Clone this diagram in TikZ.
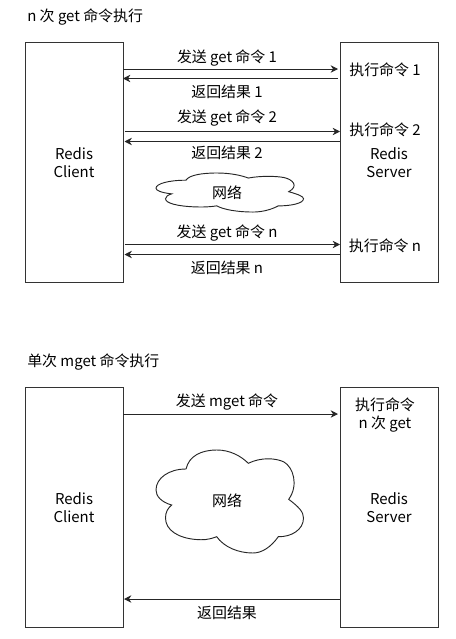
\documentclass[tikz,border=0pt]{standalone}
\usepackage{fontspec}
\setmainfont{Noto Sans CJK SC}
\usetikzlibrary{arrows.meta}
\tikzset{
    hostbox/.style={draw=black!80, line width=0.75pt, minimum width=73.5pt, minimum height=180pt, inner sep=0pt, outer sep=0pt},
    msgline/.style={draw=black!85, line width=0.75pt, -{Stealth[length=5.5pt,width=5.5pt]}},
    txt/.style={inner sep=0pt, align=center},
    cloudline/.style={draw=black!85, line width=0.7pt}
}
\newcommand{\netcloud}{
    \draw[cloudline] (15.7,55) .. controls (5,52) and (0,46) .. (0,40)
        .. controls (0,28) and (13,19) .. (30,19)
        .. controls (33,6) and (45,0) .. (61,0)
        .. controls (74,0) and (85,6) .. (92.3,13.3)
        .. controls (105,7) and (120,8) .. (128,12)
        .. controls (137,17) and (143,35) .. (132.7,49.3)
        .. controls (143,57) and (147.5,62) .. (147.5,68)
        .. controls (147.5,80) and (135,87) .. (122.3,86.7)
        .. controls (115,97) and (106,103) .. (97,103)
        .. controls (82,103) and (68,97) .. (60.7,86.7)
        .. controls (52,90) and (47,90) .. (40,89.5)
        .. controls (22,88) and (9.5,80) .. (9.5,68)
        .. controls (9.5,62) and (12,58) .. (15.7,55) -- cycle;
}

\begin{document}
\begin{tikzpicture}[x=0.75pt, y=-0.75pt, font=\fontsize{11.2}{13.5}\selectfont]
    \useasboundingbox (0,0) rectangle (456,639);

    % n gets
    \node (title1) [txt, anchor=west] at (27,17) {n 次 get 命令执行};
    \node (client1) [hostbox] at (74,162) {};
    \node (server1) [hostbox] at (389,162) {};
    \node (clabel1) [txt] at (74,163) {Redis\\Client};
    \node (slabel1) [txt] at (389,163) {Redis\\Server};

    \node (exec1) [txt] at (385,70) {执行命令 1};
    \node (exec2) [txt] at (385,130) {执行命令 2};
    \node (execn) [txt] at (385,246) {执行命令 n};

    \node (send1) [txt] at (227,58) {发送 get 命令 1};
    \node (back1) [txt] at (227,92) {返回结果 1};
    \node (send2) [txt] at (227,118) {发送 get 命令 2};
    \node (back2) [txt] at (227,153) {返回结果 2};
    \node (sendn) [txt] at (227,233) {发送 get 命令 n};
    \node (backn) [txt] at (227,268) {返回结果 n};

    \coordinate (c1a) at (123,69);  \coordinate (s1a) at (338,69);
    \coordinate (s1b) at (338,78.5);    \coordinate (c1b) at (123,78.5);
    \coordinate (c2a) at (124.5,131.5); \coordinate (s2a) at (340,131.5);
    \coordinate (s2b) at (340,141.5); \coordinate (c2b) at (124.5,141.5);
    \coordinate (cna) at (124.5,244.5); \coordinate (sna) at (340,244.5);
    \coordinate (snb) at (340,254.5); \coordinate (cnb) at (124.5,254.5);

    \draw[msgline] (c1a) -- (s1a);
    \draw[msgline] (s1b) -- (c1b);
    \draw[msgline] (c2a) -- (s2a);
    \draw[msgline] (s2b) -- (c2b);
    \draw[msgline] (cna) -- (sna);
    \draw[msgline] (snb) -- (cnb);

    \begin{scope}[shift={(156,173)}, yscale=0.379]
    \netcloud
    \end{scope}
    \node (net1) [txt] at (227,193) {网络};

    % single mget
    \node (title2) [txt, anchor=west] at (27,362) {单次 mget 命令执行};
    \node (client2) [hostbox] at (74,507) {};
    \node (server2) [hostbox] at (389,507) {};
    \node (clabel2) [txt] at (74,508) {Redis\\Client};
    \node (slabel2) [txt] at (389,508) {Redis\\Server};

    \node (execm) [txt] at (385,415) {执行命令\\n 次 get};
    \node (sendm) [txt] at (227,402) {发送 mget 命令};
    \node (backm) [txt] at (227,613) {返回结果};

    \coordinate (cma) at (123,414);   \coordinate (sma) at (338,414);
    \coordinate (smb) at (340,599);   \coordinate (cmb) at (124,599);

    \draw[msgline] (cma) -- (sma);
    \draw[msgline] (smb) -- (cmb);

    \begin{scope}[shift={(156,450)}]
    \netcloud
    \end{scope}
    \node (net2) [txt] at (227,501) {网络};
\end{tikzpicture}
\end{document}
